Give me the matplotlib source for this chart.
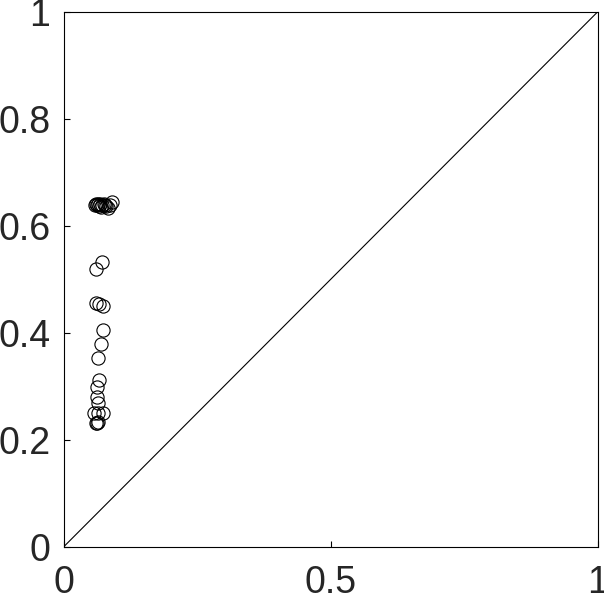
import matplotlib
matplotlib.use("Agg")
import matplotlib.pyplot as plt
import numpy as np

plt.rcParams["font.family"] = ["Liberation Sans", "DejaVu Sans"]

# upper cluster near y = 0.64
x_top = [0.059, 0.061, 0.063, 0.065, 0.066, 0.068, 0.072, 0.076, 0.080, 0.083, 0.087, 0.091, 0.070, 0.078]
y_top = [0.640, 0.641, 0.639, 0.642, 0.638, 0.641, 0.640, 0.642, 0.637, 0.634, 0.640, 0.644, 0.636, 0.640]

# scattered points below
x_low = [0.0715, 0.060, 0.060, 0.067, 0.0745, 0.0745, 0.070, 0.065, 0.066, 0.062,
         0.062, 0.065, 0.065, 0.057, 0.0745, 0.062, 0.061, 0.064]
y_low = [0.533, 0.519, 0.456, 0.454, 0.451, 0.406, 0.380, 0.353, 0.313, 0.300,
         0.281, 0.270, 0.251, 0.251, 0.250, 0.232, 0.231, 0.233]

x_ticks = [0, 0.5, 1]
y_ticks = [0, 0.2, 0.4, 0.6, 0.8, 1]


def main():
    fig = plt.figure(figsize=(6.04, 5.98), dpi=100)
    ax = fig.add_axes([63.5 / 604, 51 / 598, 534 / 604, 535 / 598])

    xs = np.array(x_top + x_low)
    ys = np.array(y_top + y_low)
    ax.plot(xs, ys, "o", mfc="none", mec="black", ms=9.5, mew=0.8)

    # identity line
    ax.plot([0, 1], [0, 1], color="black", lw=0.8)

    ax.set_xlim(0, 1)
    ax.set_ylim(0, 1)
    ax.set_xticks(x_ticks)
    ax.set_xticklabels(["0", "0.5", "1"])
    ax.set_yticks(y_ticks)
    ax.set_yticklabels(["0", "0.2", "0.4", "0.6", "0.8", "1"])
    ax.tick_params(axis="both", direction="in", length=4, width=0.8, labelsize=27,
                   colors="black", labelcolor="#262626")
    ax.tick_params(axis="y", pad=9.5)
    ax.tick_params(axis="x", pad=13)
    for sp in ax.spines.values():
        sp.set_linewidth(0.8)

    fig.savefig("out.png", dpi=100)


if __name__ == "__main__":
    main()
